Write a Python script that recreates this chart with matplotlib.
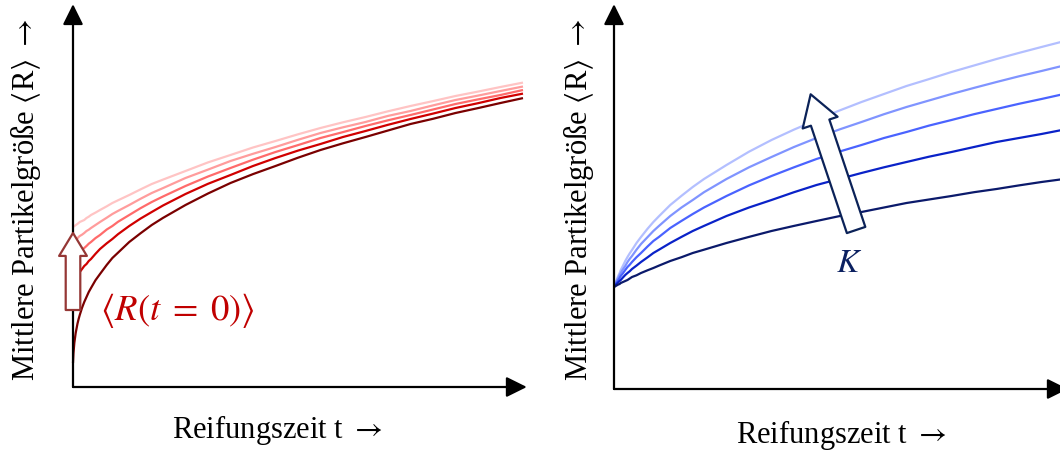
import matplotlib
matplotlib.use("Agg")
import matplotlib.pyplot as plt
from matplotlib.patches import FancyArrowPatch

# ============================================
# Data: mean particle size vs. ripening time
# ============================================
t = [0, 0.001, 0.003, 0.006, 0.01, 0.0125, 0.015, 0.02, 0.025, 0.03, 0.035, 0.04,
     0.05, 0.06, 0.075, 0.0875, 0.1, 0.125, 0.15, 0.175, 0.2, 0.25, 0.3, 0.35,
     0.4, 0.45, 0.5, 0.55, 0.6, 0.65, 0.7, 0.75, 0.8, 0.85, 0.9, 0.95, 1.0]

# left panel: same K, different start size <R(t=0)>
r_start_1 = [1.600, 1.603, 1.609, 1.619, 1.631, 1.64, 1.65, 1.660, 1.67, 1.69, 1.703, 1.72,
             1.744, 1.77, 1.807, 1.84, 1.867, 1.92, 1.976, 2.03, 2.074, 2.16, 2.246, 2.32,
             2.395, 2.46, 2.527, 2.59, 2.647, 2.70, 2.757, 2.81, 2.859, 2.91, 2.954, 3.00, 3.044]
r_start_2 = [1.450, 1.454, 1.461, 1.473, 1.487, 1.50, 1.51, 1.523, 1.54, 1.56, 1.573, 1.59,
             1.620, 1.65, 1.693, 1.73, 1.761, 1.82, 1.882, 1.94, 1.989, 2.09, 2.174, 2.26,
             2.332, 2.40, 2.472, 2.54, 2.597, 2.65, 2.711, 2.76, 2.816, 2.87, 2.914, 2.96, 3.005]
r_start_3 = [1.280, 1.285, 1.294, 1.309, 1.327, 1.34, 1.35, 1.371, 1.39, 1.41, 1.433, 1.45,
             1.489, 1.52, 1.575, 1.61, 1.652, 1.72, 1.788, 1.85, 1.905, 2.01, 2.105, 2.19,
             2.273, 2.35, 2.419, 2.49, 2.549, 2.61, 2.667, 2.72, 2.775, 2.83, 2.876, 2.92, 2.970]
r_start_4 = [1.050, 1.057, 1.071, 1.092, 1.118, 1.13, 1.15, 1.179, 1.21, 1.23, 1.260, 1.28,
             1.332, 1.38, 1.437, 1.48, 1.528, 1.61, 1.684, 1.75, 1.815, 1.93, 2.032, 2.12,
             2.210, 2.29, 2.364, 2.43, 2.500, 2.56, 2.622, 2.68, 2.734, 2.79, 2.838, 2.89, 2.934]
r_start_5 = [0.240, 0.336, 0.442, 0.541, 0.634, 0.68, 0.72, 0.791, 0.85, 0.90, 0.950, 0.99,
             1.068, 1.13, 1.221, 1.29, 1.343, 1.45, 1.537, 1.62, 1.691, 1.82, 1.935, 2.04,
             2.129, 2.21, 2.293, 2.37, 2.437, 2.50, 2.565, 2.63, 2.682, 2.74, 2.789, 2.84, 2.889]

# right panel: same start size, different K
r_k_5 = [1.020, 1.033, 1.058, 1.093, 1.137, 1.16, 1.19, 1.234, 1.28, 1.32, 1.357, 1.39,
         1.460, 1.52, 1.605, 1.67, 1.728, 1.84, 1.932, 2.02, 2.100, 2.24, 2.373, 2.49,
         2.594, 2.69, 2.783, 2.87, 2.950, 3.03, 3.099, 3.17, 3.235, 3.30, 3.361, 3.42, 3.478]
r_k_4 = [1.020, 1.030, 1.051, 1.080, 1.116, 1.14, 1.16, 1.197, 1.23, 1.27, 1.302, 1.33,
         1.393, 1.45, 1.521, 1.58, 1.631, 1.73, 1.815, 1.89, 1.968, 2.10, 2.217, 2.32,
         2.420, 2.51, 2.594, 2.67, 2.748, 2.82, 2.885, 2.95, 3.011, 3.07, 3.127, 3.18, 3.235]
r_k_3 = [1.020, 1.028, 1.043, 1.065, 1.093, 1.11, 1.13, 1.158, 1.19, 1.22, 1.243, 1.27,
         1.318, 1.36, 1.427, 1.48, 1.521, 1.61, 1.681, 1.75, 1.815, 1.93, 2.036, 2.13,
         2.217, 2.30, 2.373, 2.44, 2.510, 2.57, 2.634, 2.69, 2.748, 2.80, 2.852, 2.90, 2.950]
r_k_2 = [1.020, 1.025, 1.036, 1.051, 1.070, 1.08, 1.09, 1.116, 1.14, 1.16, 1.178, 1.20,
         1.234, 1.27, 1.318, 1.36, 1.393, 1.46, 1.521, 1.58, 1.631, 1.73, 1.815, 1.89,
         1.968, 2.04, 2.100, 2.16, 2.217, 2.27, 2.323, 2.37, 2.420, 2.47, 2.510, 2.55, 2.594]
r_k_1 = [1.020, 1.023, 1.028, 1.036, 1.046, 1.05, 1.06, 1.070, 1.08, 1.09, 1.105, 1.12,
         1.137, 1.16, 1.188, 1.21, 1.234, 1.28, 1.318, 1.36, 1.393, 1.46, 1.521, 1.58,
         1.631, 1.68, 1.728, 1.77, 1.815, 1.86, 1.895, 1.93, 1.968, 2.00, 2.036, 2.07, 2.100]

left_series = [r_start_1, r_start_2, r_start_3, r_start_4, r_start_5]
right_series = [r_k_5, r_k_4, r_k_3, r_k_2, r_k_1]

red_colors = ["#ffc4c4", "#ff9c9c", "#ff6b6b", "#d00000", "#7a0000"]
blue_colors = ["#b3bfff", "#8094ff", "#4a63ff", "#0a22c8", "#0b1a6b"]

x_label = r"Reifungszeit t $\rightarrow$"
y_label = "Mittlere Partikelgr\u00f6\u00dfe $\\langle$R$\\rangle$ $\\rightarrow$"

label_font = ["Liberation Serif", "DejaVu Serif"]
plt.rcParams["mathtext.fontset"] = "stix"

W, H = 1060, 450
fig = plt.figure(figsize=(W / 100, H / 100), dpi=100)


def px_axes(x0, y0, w, h):
    # axes placed by pixel position (origin top-left of the image)
    return fig.add_axes([x0 / W, (H - y0) / H, w / W, h / H])


def draw_frame(ax, xmax, ymax):
    ax.set_xlim(0, xmax)
    ax.set_ylim(0, ymax)
    ax.axis("off")
    style = "-|>,head_length=1.25,head_width=0.62"
    ax.annotate("", xy=(xmax * 0.993, 0), xytext=(0, 0), annotation_clip=False,
                arrowprops=dict(arrowstyle=style, color="black", lw=1.6,
                                shrinkA=0, shrinkB=0))
    ax.annotate("", xy=(0, ymax * 0.997), xytext=(0, 0), annotation_clip=False,
                arrowprops=dict(arrowstyle=style, color="black", lw=1.6,
                                shrinkA=0, shrinkB=0))


# ---- left panel ----
ax1 = px_axes(73, 387, 457, 384)
draw_frame(ax1, 457 / 450, 3.84)
for r, c in zip(left_series, red_colors):
    ax1.plot(t, r, color=c, lw=1.6, solid_capstyle="butt", clip_on=False)

arr1 = FancyArrowPatch((0, 0.77), (0, 1.54), mutation_scale=1,
                       arrowstyle="simple,head_length=16.5,head_width=20,tail_width=10.5",
                       fc="white", ec="#953735", lw=1.6, shrinkA=0, shrinkB=0,
                       clip_on=False, zorder=5)
ax1.add_patch(arr1)
ax1.text(0.06, 0.76, r"$\langle R(t\;=\;0)\rangle$", color="#c00000", fontsize=26.5,
         ha="left", va="center")

# ---- right panel ----
ax2 = px_axes(614, 389, 457, 386)
draw_frame(ax2, 457 / 450, 3.86)
for r, c in zip(right_series, blue_colors):
    ax2.plot(t, r, color=c, lw=1.6, solid_capstyle="butt")

arr2 = FancyArrowPatch((0.538, 1.59), (0.437, 2.947), mutation_scale=1,
                       arrowstyle="simple,head_length=21.5,head_width=26.5,tail_width=14",
                       fc="white", ec="#0b2258", lw=1.6, shrinkA=0, shrinkB=0,
                       zorder=5)
ax2.add_patch(arr2)
ax2.text(0.523, 1.27, r"$K$", color="#0b2060", fontsize=24, ha="center", va="center")

# ---- axis titles ----
fig.text(277 / W, (H - 438) / H, x_label, family=label_font, fontsize=22,
         ha="center", va="baseline")
fig.text(841 / W, (H - 443) / H, x_label, family=label_font, fontsize=22,
         ha="center", va="baseline")
fig.text(26 / W, (H - 200) / H, y_label, family=label_font, fontsize=22,
         ha="center", va="center", rotation=90)
fig.text(578 / W, (H - 200) / H, y_label, family=label_font, fontsize=22,
         ha="center", va="center", rotation=90)

fig.savefig("out.png", dpi=100)
